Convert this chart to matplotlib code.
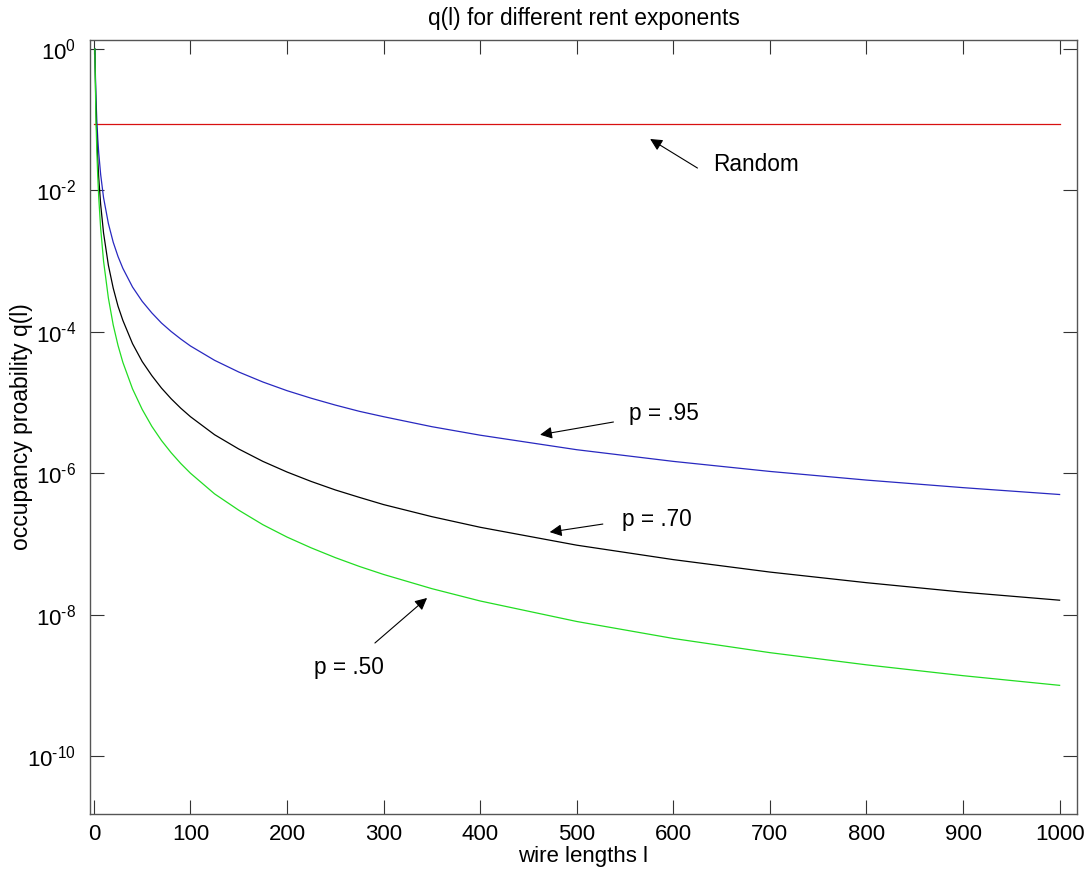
"""q(l) for different rent exponents — log-scale occupancy probability vs wire length."""
import matplotlib
matplotlib.use("Agg")
import matplotlib.pyplot as plt

plt.rcParams["font.family"] = ["Liberation Sans", "DejaVu Sans"]
plt.rcParams["mathtext.fontset"] = "custom"
plt.rcParams["mathtext.rm"] = "Liberation Sans"
plt.rcParams["mathtext.it"] = "Liberation Sans:italic"

# wire length l and q(l)
wire_len = [1, 2, 3, 4, 5, 7, 10, 15, 20, 25, 30, 40, 50, 60, 70, 80, 90, 100,
            125, 150, 175, 200, 225, 250, 275, 300, 350, 400, 500, 600, 700,
            800, 900, 1000]
q_p95 = [1.0, 0.233, 0.0995, 0.0544, 0.034, 0.0168, 7.9e-3, 3.4e-3, 1.85e-3,
         1.16e-3, 7.9e-4, 4.3e-4, 2.7e-4, 1.85e-4, 1.33e-4, 1.01e-4, 7.9e-5,
         6.3e-5, 3.95e-5, 2.7e-5, 1.95e-5, 1.47e-5, 1.15e-5, 9.2e-6, 7.5e-6,
         6.3e-6, 4.55e-6, 3.45e-6, 2.15e-6, 1.47e-6, 1.06e-6, 8.0e-7, 6.25e-7,
         5.0e-7]
q_p70 = [1.0, 0.165, 0.0575, 0.0272, 0.0152, 6.35e-3, 2.5e-3, 8.75e-4, 4.15e-4,
         2.3e-4, 1.45e-4, 6.8e-5, 3.8e-5, 2.4e-5, 1.6e-5, 1.13e-5, 8.3e-6,
         6.3e-6, 3.5e-6, 2.2e-6, 1.47e-6, 1.04e-6, 7.65e-7, 5.8e-7, 4.55e-7,
         3.6e-7, 2.43e-7, 1.72e-7, 9.6e-8, 6.0e-8, 4.0e-8, 2.83e-8, 2.08e-8,
         1.6e-8]
q_p50 = [1.0, 0.125, 0.037, 0.0156, 8.0e-3, 2.9e-3, 1.0e-3, 3.0e-4, 1.25e-4,
         6.4e-5, 3.7e-5, 1.56e-5, 8.0e-6, 4.6e-6, 2.9e-6, 1.95e-6, 1.37e-6,
         1.0e-6, 5.1e-7, 3.0e-7, 1.87e-7, 1.25e-7, 8.8e-8, 6.4e-8, 4.8e-8,
         3.7e-8, 2.33e-8, 1.56e-8, 8.0e-9, 4.6e-9, 2.9e-9, 1.95e-9, 1.37e-9,
         1.0e-9]
random_x = [0, 1000]
random_q = [0.086, 0.086]

x_ticks = [0, 100, 200, 300, 400, 500, 600, 700, 800, 900, 1000]
y_ticks = [1e0, 1e-2, 1e-4, 1e-6, 1e-8, 1e-10]
y_tick_labels = [r"$10^{0}$", r"$10^{\text{-}2}$", r"$10^{\text{-}4}$",
                 r"$10^{\text{-}6}$", r"$10^{\text{-}8}$", r"$10^{\text{-}10}$"]

fig = plt.figure(figsize=(10.86, 8.77), dpi=100)
ax = fig.add_axes([0.0829, 0.0718, 0.9088, 0.8826])

ax.plot(random_x, random_q, color="#d81010", lw=0.9)
ax.plot(wire_len, q_p95, color="#2828c0", lw=0.9)
ax.plot(wire_len, q_p70, color="black", lw=0.9)
ax.plot(wire_len, q_p50, color="#22dd22", lw=0.9)

ax.set_yscale("log")
ax.set_xlim(-4, 1018)
ax.set_ylim(10 ** -10.82, 10 ** 0.127)
ax.set_xticks(x_ticks)
ax.set_yticks(y_ticks)
ax.set_yticklabels(y_tick_labels)
ax.yaxis.set_minor_locator(matplotlib.ticker.NullLocator())
ax.tick_params(direction="in", length=10, width=0.8, labelsize=16,
               top=True, right=True, color="#333333")
ax.tick_params(axis="x", pad=7)
ax.tick_params(axis="y", pad=10)
for s in ax.spines.values():
    s.set_color("#555555")
    s.set_linewidth(1.0)

ax.set_title("q(l) for different rent exponents", fontsize=16.4, pad=11)
ax.set_xlabel("wire lengths l", fontsize=16, labelpad=1)
ax.set_ylabel("occupancy proability q(l)", fontsize=16.5)
ax.yaxis.set_label_coords(-0.0578, 0.5)

arrow = dict(arrowstyle="-|>", color="black", lw=0.8, mutation_scale=18,
             shrinkA=0, shrinkB=0)
txt = dict(fontsize=16.3, va="center", ha="left")
ax.annotate("", xy=(576, 0.0533), xytext=(625, 0.0207), arrowprops=arrow)
ax.text(641, 0.0229, "Random", **txt)
ax.annotate("", xy=(462, 3.5e-6), xytext=(538, 5.3e-6), arrowprops=arrow)
ax.text(554, 6.9e-6, "p = .95", **txt)
ax.annotate("", xy=(472, 1.47e-7), xytext=(527, 1.91e-7), arrowprops=arrow)
ax.text(547, 2.25e-7, "p = .70", **txt)
ax.annotate("", xy=(345, 1.72e-8), xytext=(291, 3.97e-9), arrowprops=arrow)
ax.text(228, 1.76e-9, "p = .50", **txt)

fig.savefig("out.png", dpi=100)
